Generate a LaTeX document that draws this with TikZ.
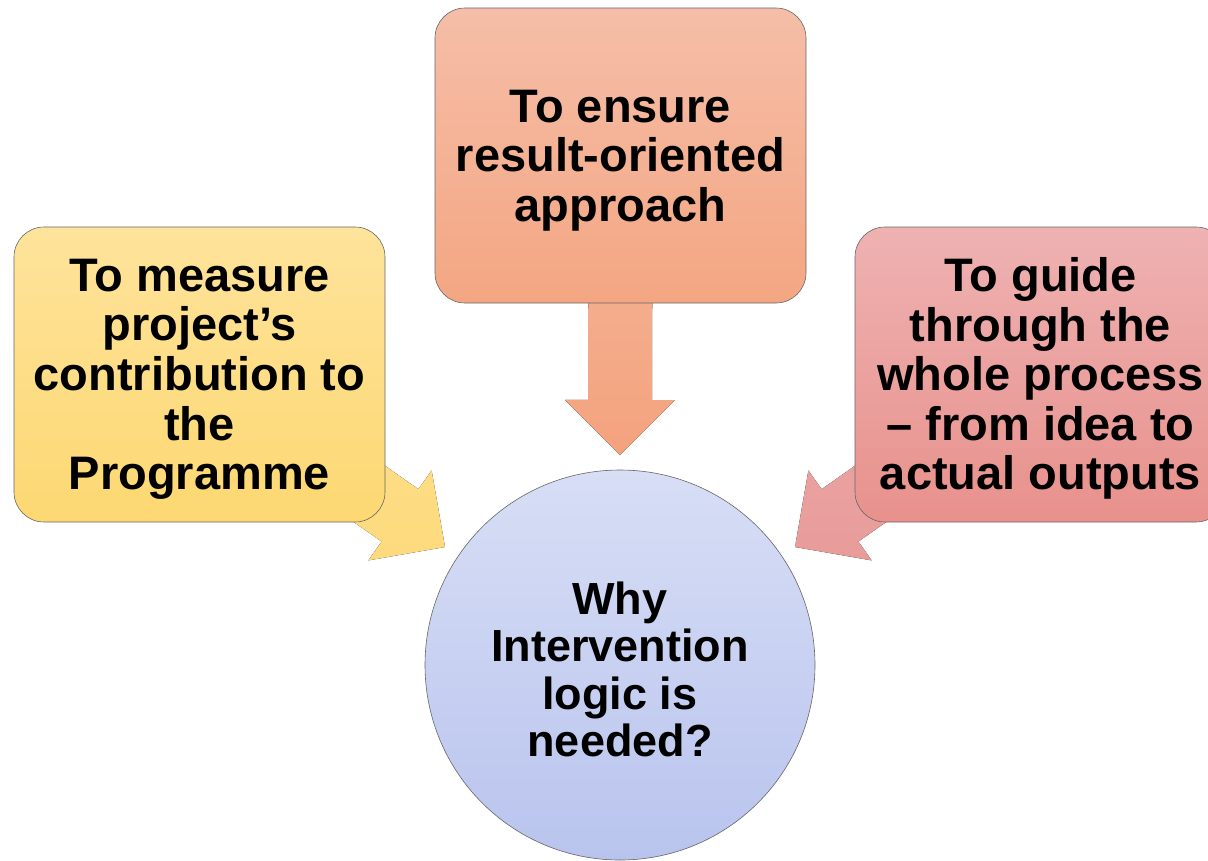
\documentclass[tikz,border=0pt]{standalone}
\usepackage{fontspec}
\setmainfont{Liberation Sans}
\usepackage{tikz}
\usetikzlibrary{calc}
\usetikzlibrary{backgrounds}

\definecolor{yeltop}{HTML}{FEE39B}
\definecolor{yelbot}{HTML}{FDD872}
\definecolor{orgtop}{HTML}{F5BEA8}
\definecolor{orgbot}{HTML}{F4A682}
\definecolor{pnktop}{HTML}{EEB2B2}
\definecolor{pnkbot}{HTML}{E8918C}
\definecolor{blutop}{HTML}{D7DEF5}
\definecolor{blubot}{HTML}{B9C4EE}
\definecolor{arrorgtop}{HTML}{F4B899}
\definecolor{arrorgbot}{HTML}{F4A27E}
\definecolor{arryeltop}{HTML}{FDE08E}
\definecolor{arryelbot}{HTML}{FDDA7C}
\definecolor{arrpnktop}{HTML}{EBA8A8}
\definecolor{arrpnkbot}{HTML}{E89C9A}

% strut on the first line, pushes text a bit down
\newcommand\topstrut{\rule{0pt}{42pt}}

% fat arrow from #1 to tip #2
\newcommand\fatarrow[4]{%
\fill[top color=#3,bottom color=#4]
  (#2) -- ($(#2)!55pt!(#1)!55pt!90:(#2)$) -- ($(#2)!55pt!(#1)!32pt!90:(#2)$)
  -- ($(#1)!32pt!90:(#2)$) -- ($(#1)!32pt!-90:(#2)$)
  -- ($(#2)!55pt!(#1)!32pt!-90:(#2)$) -- ($(#2)!55pt!(#1)!55pt!-90:(#2)$) -- cycle;}

\begin{document}
\begin{tikzpicture}[x=1pt,y=-1pt,
reason/.style={draw=black!60,line width=0.6pt,rounded corners=30pt,
  minimum width=371pt,minimum height=295pt,align=center,inner sep=0pt,
  font=\bfseries\fontsize{47}{49.6}\selectfont},
question/.style={circle,draw=black!60,line width=0.6pt,minimum size=390pt,
  align=center,inner sep=0pt,
  font=\bfseries\fontsize{45}{47.5}\selectfont}]
\useasboundingbox (0,0) rectangle (1208,860);

\node[reason,top color=orgtop,bottom color=orgbot] (result) at (620.5,155.5)
  {\topstrut To ensure\\result-oriented\\approach};
\node[reason,top color=yeltop,bottom color=yelbot] (measure) at (199.5,374.5)
  {\topstrut To measure\\project’s\\contribution to\\the\\Programme};
\node[reason,top color=pnktop,bottom color=pnkbot] (guide) at (1040.5,374.5)
  {\topstrut To guide\\through the\\whole process\\– from idea to\\actual outputs};
\node[question,top color=blutop,bottom color=blubot] (why) at (620,665)
  {\rule{0pt}{41pt}Why\\Intervention\\logic is\\needed?};

\coordinate (tipT) at (620,455);
\coordinate (tipL) at (445,547);
\coordinate (tipR) at (795,547);

\begin{pgfonlayer}{background}
\fatarrow{result.center}{tipT}{arrorgtop}{arrorgbot}
\fatarrow{measure.center}{tipL}{arryeltop}{arryelbot}
\fatarrow{guide.center}{tipR}{arrpnktop}{arrpnkbot}
\end{pgfonlayer}
\end{tikzpicture}
\end{document}
